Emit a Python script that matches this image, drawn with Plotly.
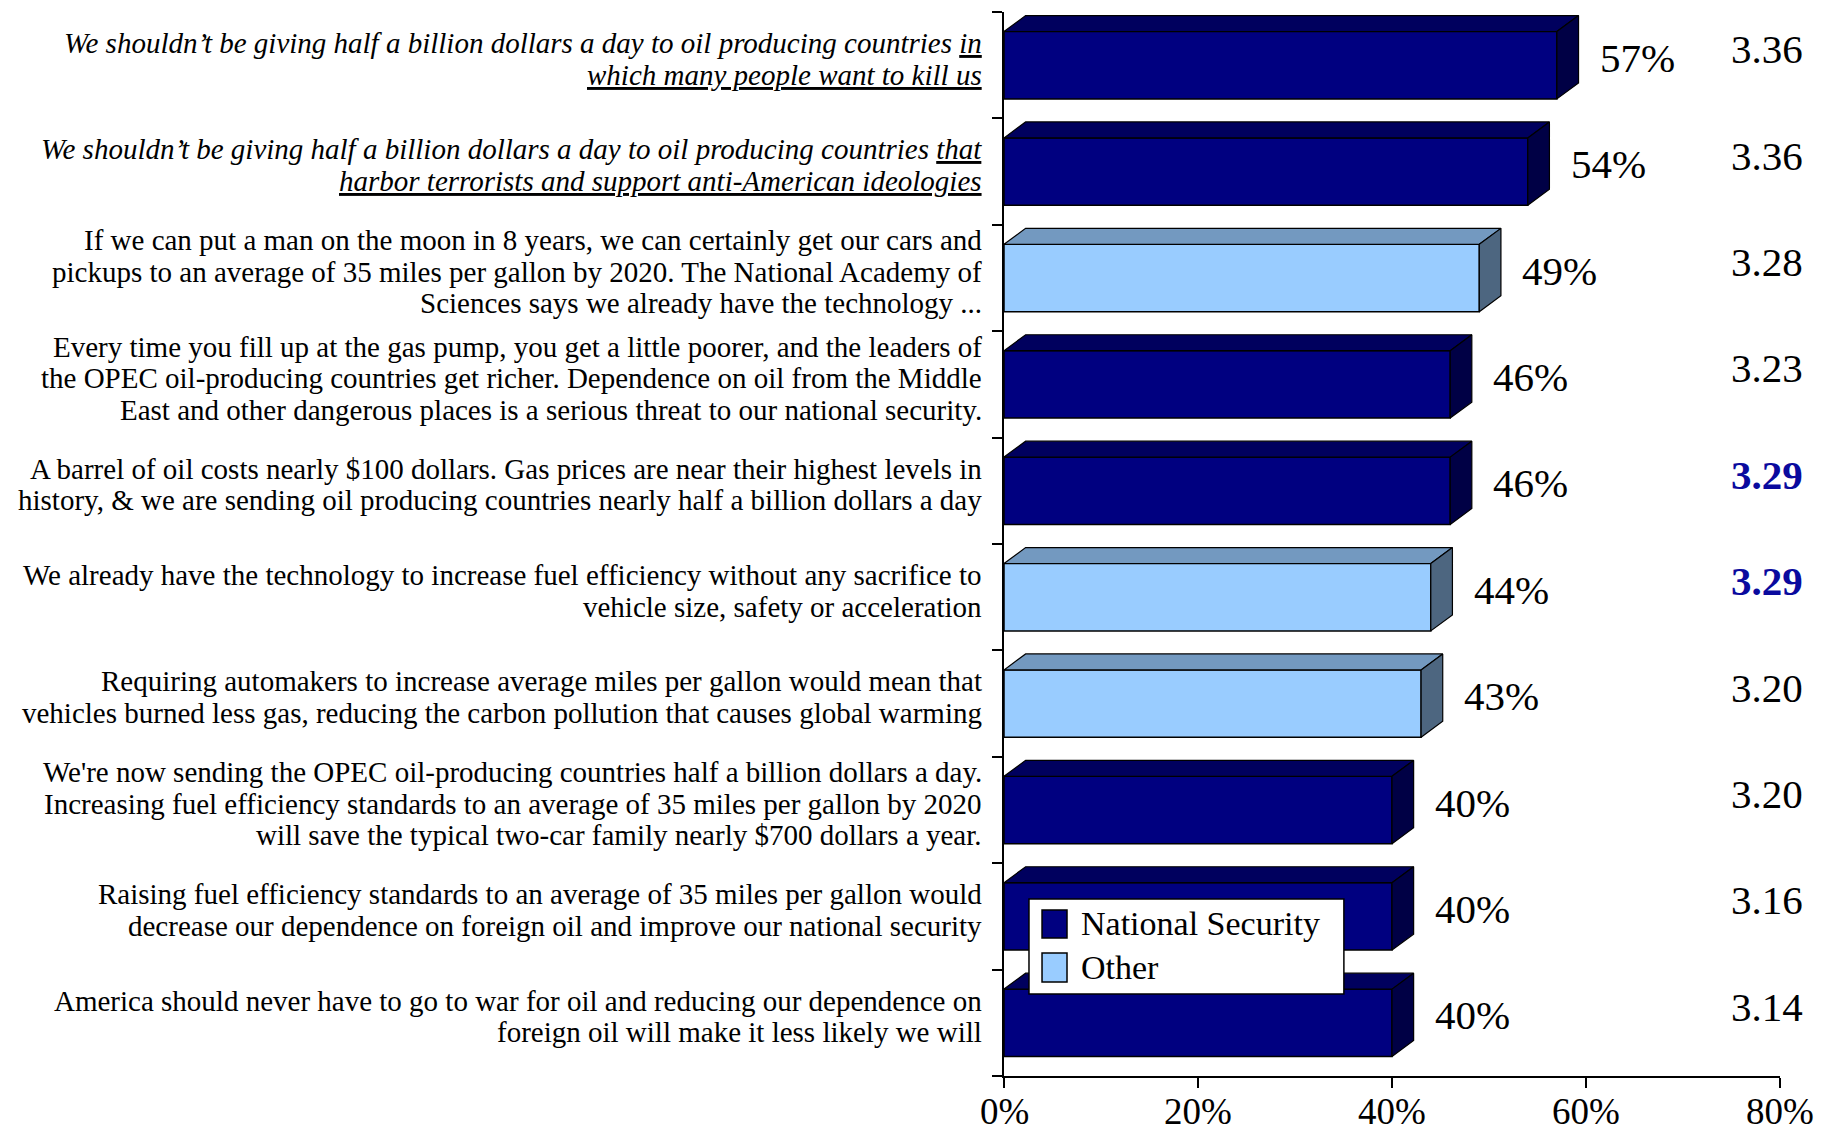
import plotly.graph_objects as go

labels = [
    "<i>We shouldn’t be giving half a billion dollars a day to oil producing countries <u>in</u></i><br><i><u>which many people want to kill us</u></i>",
    "<i>We shouldn’t be giving half a billion dollars a day to oil producing countries <u>that</u></i><br><i><u>harbor terrorists and support anti-American ideologies</u></i>",
    "If we can put a man on the moon in 8 years, we can certainly get our cars and<br>pickups to an average of 35 miles per gallon by 2020. The National Academy of<br>Sciences says we already have the technology ...",
    "Every time you fill up at the gas pump, you get a little poorer, and the leaders of<br>the OPEC oil-producing countries get richer. Dependence on oil from the Middle<br>East and other dangerous places is a serious threat to our national security.",
    "A barrel of oil costs nearly $100 dollars. Gas prices are near their highest levels in<br>history, &amp; we are sending oil producing countries nearly half a billion dollars a day",
    "We already have the technology to increase fuel efficiency without any sacrifice to<br>vehicle size, safety or acceleration",
    "Requiring automakers to increase average miles per gallon would mean that<br>vehicles burned less gas, reducing the carbon pollution that causes global warming",
    "We're now sending the OPEC oil-producing countries half a billion dollars a day.<br>Increasing fuel efficiency standards to an average of 35 miles per gallon by 2020<br>will save the typical two-car family nearly $700 dollars a year.",
    "Raising fuel efficiency standards to an average of 35 miles per gallon would<br>decrease our dependence on foreign oil and improve our national security",
    "America should never have to go to war for oil and reducing our dependence on<br>foreign oil will make it less likely we will",
]
values = [57, 54, 49, 46, 46, 44, 43, 40, 40, 40]
groups = ["National Security", "National Security", "Other", "National Security", "National Security",
          "Other", "Other", "National Security", "National Security", "National Security"]
scores = ["3.36", "3.36", "3.28", "3.23", "3.29", "3.29", "3.20", "3.20", "3.16", "3.14"]
highlight = [False, False, False, False, True, True, False, False, False, False]
x_ticks = [0, 20, 40, 60, 80]
legend_names = ["National Security", "Other"]

FONT = "Liberation Serif"
colors = {
    "National Security": {"front": "#000080", "top": "#00005E", "side": "#000045"},
    "Other": {"front": "#99CCFF", "top": "#7399C0", "side": "#4D6680"},
}
H = 0.633   # front face thickness (band units)
DX = 2.23   # depth in x (percent units)
DY = 0.15   # depth in y (band units)
LINE_H = 31.5  # label line spacing in px

pos = list(range(len(values)))
fig = go.Figure()

# 3D top and side faces
for i, v in enumerate(values):
    c = colors[groups[i]]
    top = i - H / 2
    bot = i + H / 2
    fig.add_trace(go.Scatter(
        x=[0, v, v + DX, DX, 0], y=[top, top, top - DY, top - DY, top],
        mode="lines", fill="toself", fillcolor=c["top"],
        line=dict(color="black", width=1.2), showlegend=False, hoverinfo="skip"))
    fig.add_trace(go.Scatter(
        x=[v, v + DX, v + DX, v, v], y=[top, top - DY, bot - DY, bot, top],
        mode="lines", fill="toself", fillcolor=c["side"],
        line=dict(color="black", width=1.2), showlegend=False, hoverinfo="skip"))

# front faces
for g in legend_names:
    idx = [i for i in pos if groups[i] == g]
    fig.add_trace(go.Bar(
        x=[values[i] for i in idx], y=idx, orientation="h", width=H, name=g,
        marker=dict(color=colors[g]["front"], line=dict(color="black", width=1.5)),
        hoverinfo="skip", showlegend=False))

# category labels (one annotation per line for tight line spacing)
for i, lab in enumerate(labels):
    lines = lab.split("<br>")
    n = len(lines)
    for k, ln in enumerate(lines):
        fig.add_annotation(x=-0.0258, y=i - 0.06, xref="paper", yref="y", text=ln,
                           showarrow=False, xanchor="right", yanchor="middle",
                           yshift=-(k - (n - 1) / 2) * LINE_H,
                           font=dict(family=FONT, size=29, color="black"))

# value labels
for i, v in enumerate(values):
    fig.add_annotation(x=v + DX + 2.0, y=i - 0.07, xref="x", yref="y", text=f"{v}%",
                       showarrow=False, xanchor="left", yanchor="middle",
                       font=dict(family=FONT, size=41, color="black"))
# mean scores
for i, s in enumerate(scores):
    if highlight[i]:
        txt = f"<b>{s}</b>"
        col = "#0A0A9E"
    else:
        txt = s
        col = "black"
    fig.add_annotation(x=1.032, y=i - 0.15, xref="paper", yref="y", text=txt,
                       showarrow=False, xanchor="right", yanchor="middle",
                       font=dict(family=FONT, size=41, color=col))

# x tick labels
for t in x_ticks:
    fig.add_annotation(x=t, y=0, xref="x", yref="paper", text=f"{t}%",
                       showarrow=False, xanchor="center", yanchor="middle", yshift=-35,
                       font=dict(family=FONT, size=37, color="black"))

# legend box
fig.add_shape(type="rect", xref="paper", yref="paper", x0=0.0322, x1=0.438, y0=0.0771, y1=0.1664,
              fillcolor="white", line=dict(color="black", width=1.5), layer="above")
leg_sym_y = [(0.1297, 0.156), (0.0883, 0.1156)]
leg_txt_y = [0.1429, 0.1024]
for k, g in enumerate(legend_names):
    fig.add_shape(type="rect", xref="paper", yref="paper", x0=0.049, x1=0.0812,
                  y0=leg_sym_y[k][0], y1=leg_sym_y[k][1],
                  fillcolor=colors[g]["front"], line=dict(color="black", width=1.5), layer="above")
    fig.add_annotation(x=0.0966, y=leg_txt_y[k], xref="paper", yref="paper", text=g,
                       showarrow=False, xanchor="left", yanchor="middle",
                       font=dict(family=FONT, size=34, color="black"))

fig.update_layout(
    width=1822, height=1130,
    margin=dict(l=996, r=50, t=4, b=62),
    paper_bgcolor="white", plot_bgcolor="white",
    barmode="overlay",
    showlegend=False,
    xaxis=dict(range=[0, 80], tickvals=x_ticks, showticklabels=False,
               ticks="outside", ticklen=10, tickcolor="black", tickwidth=1.5,
               showline=True, linecolor="black", linewidth=1.5, showgrid=False,
               zeroline=False, automargin=False),
    yaxis=dict(range=[len(values) - 0.5, -0.5], tickvals=pos, showticklabels=False,
               ticks="", showline=True, linecolor="black", linewidth=1.5,
               showgrid=False, zeroline=False, automargin=False,
               minor=dict(tickvals=[p - 0.5 for p in pos] + [len(values) - 0.5],
                          ticks="outside", ticklen=10, tickcolor="black", tickwidth=1.5,
                          showgrid=False)),
)

fig.write_html("out.html")
